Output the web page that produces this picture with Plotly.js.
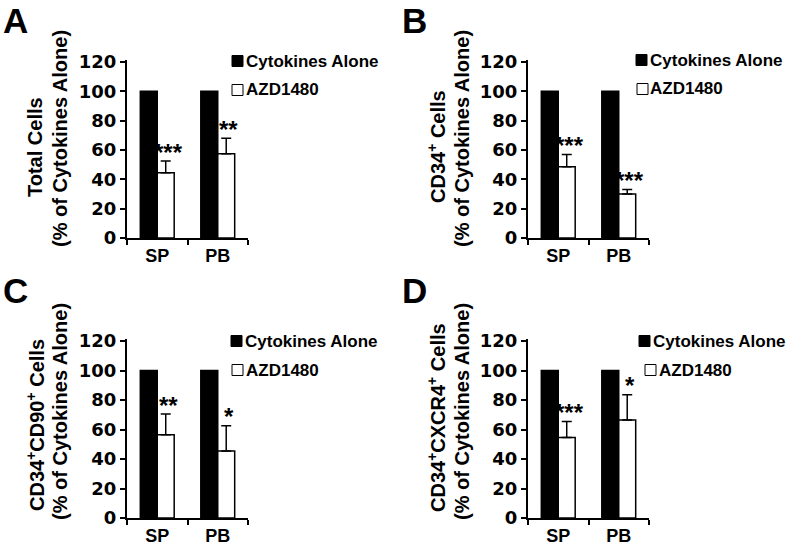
<!DOCTYPE html>
<html>
<head>
<meta charset="utf-8">
<script src="https://cdn.plot.ly/plotly-3.0.1.min.js"></script>
<style>html,body{margin:0;padding:0;background:#fff;}#chart{width:791px;height:546px;}</style>
</head>
<body>
<div id="chart"></div>
<script>
// ---- data ----
var categories = ["SP", "PB"];
var seriesNames = ["Cytokines Alone", "AZD1480"];
var panelLetters = ["A", "B", "C", "D"];
var yTitleLine1 = [
  "Total Cells",
  "CD34<sup>+</sup> Cells",
  "CD34<sup>+</sup>CD90<sup>+</sup> Cells",
  "CD34<sup>+</sup>CXCR4<sup>+</sup> Cells"
];
var yTitleLine2 = "(% of Cytokines Alone)";
var cytokinesA = [100, 100];
var azdA = [44.5, 57.5];
var errA = [8, 10.5];
var cytokinesB = [100, 100];
var azdB = [48.5, 30];
var errB = [8.5, 3];
var cytokinesC = [100, 100];
var azdC = [56.5, 45.5];
var errC = [14, 17];
var cytokinesD = [100, 100];
var azdD = [54.5, 66.5];
var errD = [11, 17];
var sigA = ["***", "**"];
var sigB = ["***", "***"];
var sigC = ["**", "*"];
var sigD = ["***", "*"];
var yTickVals = [0, 20, 40, 60, 80, 100, 120];

// ---- layout helpers ----
var W = 791, H = 546;
function px(x) { return x / W; }
function py(y) { return 1 - y / H; }
var ARIAL = "Liberation Sans, Arial, Helvetica, sans-serif";
var DEJAVU = "DejaVu Sans, Verdana, sans-serif";

var panels = [
  {cyt: cytokinesA, azd: azdA, err: errA, sig: sigA, x0: 127, x1: 248, yBase: 238, yTop: 59.8, ax: ""},
  {cyt: cytokinesB, azd: azdB, err: errB, sig: sigB, x0: 528, x1: 649, yBase: 238, yTop: 59.8, ax: "2"},
  {cyt: cytokinesC, azd: azdC, err: errC, sig: sigC, x0: 127, x1: 248, yBase: 518, yTop: 338.8, ax: "3"},
  {cyt: cytokinesD, azd: azdD, err: errD, sig: sigD, x0: 528, x1: 649, yBase: 518, yTop: 338.8, ax: "4"}
];
var legendPos = [
  {sq1: [232, 61], sq2: [232, 90], t1: [244, 61], t2: [244, 90]},
  {sq1: [636, 60], sq2: [637, 89], t1: [648, 60], t2: [648, 89]},
  {sq1: [231, 341], sq2: [232, 370], t1: [243, 341], t2: [244, 370]},
  {sq1: [639, 341], sq2: [645, 370], t1: [651, 341], t2: [657, 370]}
];
var titlePos = [
  {l1: [35, 147], l2: [60, 139]},
  {l1: [437, 147], l2: [462, 139]},
  {l1: [35, 425], l2: [60, 412]},
  {l1: [437, 418], l2: [462, 412]}
];
var letterPos = [[1, 21], [400, 21], [1, 290], [400, 290]];

var data = [];
var layout = {
  width: W, height: H,
  margin: {l: 0, r: 0, t: 0, b: 0},
  paper_bgcolor: "#ffffff",
  plot_bgcolor: "rgba(0,0,0,0)",
  showlegend: false,
  barmode: "group",
  bargap: 0.44,
  bargroupgap: 0,
  font: {family: ARIAL, color: "#000", size: 18, weight: "bold"},
  annotations: [],
  shapes: []
};

panels.forEach(function (p, i) {
  var xa = "x" + p.ax, ya = "y" + p.ax;
  data.push({
    type: "bar", name: seriesNames[0], x: categories, y: p.cyt,
    xaxis: xa, yaxis: ya,
    marker: {color: "#000000", line: {color: "#000000", width: 1.5}},
    hoverinfo: "x+y+name"
  });
  data.push({
    type: "bar", name: seriesNames[1], x: categories, y: p.azd,
    xaxis: xa, yaxis: ya,
    marker: {color: "#ffffff", line: {color: "#000000", width: 1.5}},
    error_y: {type: "data", symmetric: false, array: p.err, arrayminus: [0, 0],
              color: "#000000", thickness: 1.5, width: 5},
    hoverinfo: "x+y+name"
  });
  layout["xaxis" + p.ax] = {
    domain: [px(p.x0), px(p.x1)], anchor: ya,
    type: "category", range: [-0.5, 1.5],
    showline: true, linecolor: "#000", linewidth: 2,
    ticks: "outside", tickson: "boundaries", ticklen: 5, tickwidth: 2, tickcolor: "#000",
    tickfont: {family: ARIAL, size: 18, color: "#000", weight: "bold"},
    showgrid: false, zeroline: false, fixedrange: true
  };
  layout["yaxis" + p.ax] = {
    domain: [py(p.yBase), py(p.yTop)], anchor: xa,
    range: [0, 121.5], tickvals: yTickVals,
    showline: true, linecolor: "#000", linewidth: 2,
    ticks: "outside", ticklen: 5, tickwidth: 2, tickcolor: "#000",
    tickfont: {family: DEJAVU, size: 18, color: "#000", weight: "bold"},
    showgrid: false, zeroline: false, fixedrange: true
  };
  // y-axis title (two lines)
  var T = titlePos[i];
  layout.annotations.push({
    xref: "paper", yref: "paper", x: px(T.l1[0]), y: py(T.l1[1]),
    text: yTitleLine1[i], textangle: -90, showarrow: false,
    xanchor: "center", yanchor: "middle",
    font: {family: ARIAL, size: 20, color: "#000", weight: "bold"}
  });
  layout.annotations.push({
    xref: "paper", yref: "paper", x: px(T.l2[0]), y: py(T.l2[1]),
    text: yTitleLine2, textangle: -90, showarrow: false,
    xanchor: "center", yanchor: "middle",
    font: {family: ARIAL, size: 20, color: "#000", weight: "bold"}
  });
  // significance stars
  p.sig.forEach(function (s, j) {
    layout.annotations.push({
      xref: xa, yref: ya, x: categories[j], y: p.azd[j] + p.err[j],
      text: s, showarrow: false, xanchor: "center", yanchor: "middle",
      xshift: 11, yshift: 9,
      font: {family: ARIAL, size: 24, color: "#000", weight: "bold"}
    });
  });
  // panel letter
  layout.annotations.push({
    xref: "paper", yref: "paper", x: px(letterPos[i][0]), y: py(letterPos[i][1]),
    text: panelLetters[i], showarrow: false, xanchor: "left", yanchor: "middle",
    font: {family: ARIAL, size: 35, color: "#000", weight: "bold"}
  });
  // legend
  var L = legendPos[i], s = 11;
  layout.shapes.push({type: "rect", xref: "paper", yref: "paper",
    x0: px(L.sq1[0]), x1: px(L.sq1[0] + s), y0: py(L.sq1[1] + s / 2), y1: py(L.sq1[1] - s / 2),
    fillcolor: "#000", line: {color: "#000", width: 1}});
  layout.shapes.push({type: "rect", xref: "paper", yref: "paper",
    x0: px(L.sq2[0]), x1: px(L.sq2[0] + s), y0: py(L.sq2[1] + s / 2), y1: py(L.sq2[1] - s / 2),
    fillcolor: "#fff", line: {color: "#000", width: 1}});
  layout.annotations.push({xref: "paper", yref: "paper", x: px(L.t1[0]), y: py(L.t1[1]),
    text: seriesNames[0], showarrow: false, xanchor: "left", yanchor: "middle",
    font: {family: ARIAL, size: 17, color: "#000", weight: "bold"}});
  layout.annotations.push({xref: "paper", yref: "paper", x: px(L.t2[0]), y: py(L.t2[1]),
    text: seriesNames[1], showarrow: false, xanchor: "left", yanchor: "middle",
    font: {family: ARIAL, size: 17, color: "#000", weight: "bold"}});
});

Plotly.newPlot("chart", data, layout, {staticPlot: true, displayModeBar: false});
</script>
</body>
</html>
